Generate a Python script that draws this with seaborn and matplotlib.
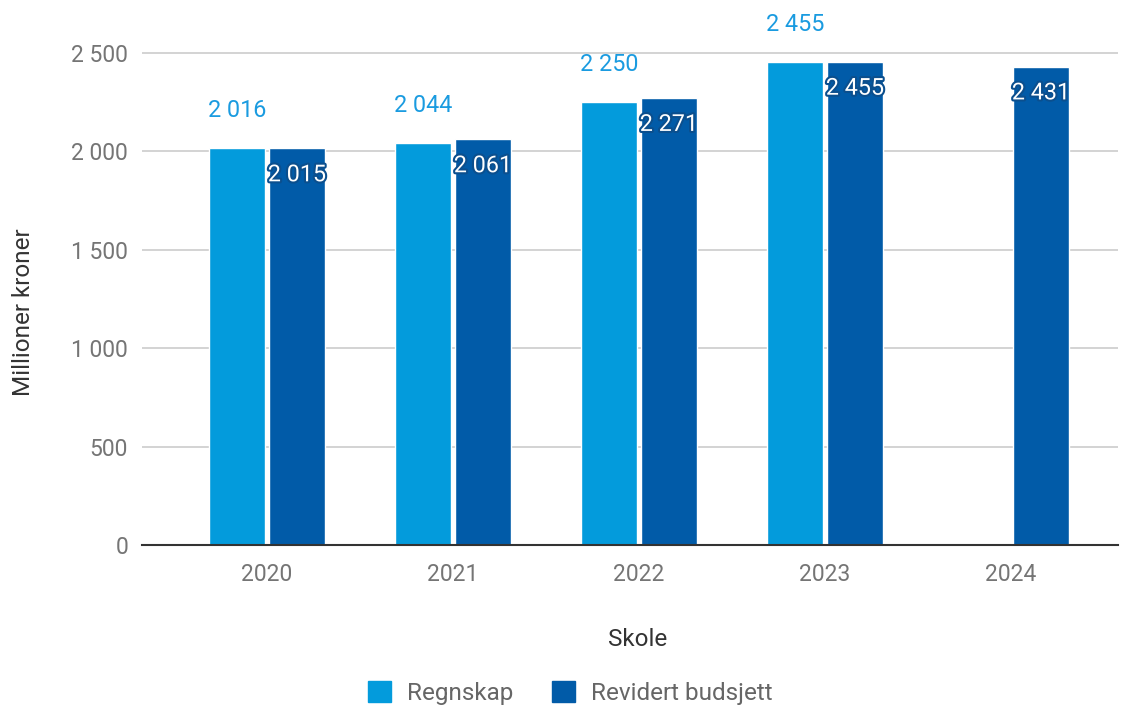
import numpy as np
import pandas as pd
import matplotlib
matplotlib.use("Agg")
import matplotlib.pyplot as plt
import matplotlib.patheffects as pe
from matplotlib.patches import Patch
from matplotlib.ticker import FuncFormatter, MultipleLocator
import seaborn as sns

years = ["2020", "2021", "2022", "2023", "2024"]
regnskap = [2016, 2044, 2250, 2455, np.nan]
revidert = [2015, 2061, 2271, 2455, 2431]
series = ["Regnskap", "Revidert budsjett"]
colors = ["#039BDC", "#015BA8"]
x_title = "Skole"
y_title = "Millioner kroner"

sns.set_theme(style="white")
plt.rcParams["font.family"] = ["Roboto", "DejaVu Sans"]


def fmt(v, pos=None):
    return f"{int(round(v)):,}".replace(",", " ")


df = pd.DataFrame({
    "year": years * 2,
    "series": [series[0]] * len(years) + [series[1]] * len(years),
    "value": list(regnskap) + list(revidert),
})

W, H = 1123, 706
fig = plt.figure(figsize=(W / 100, H / 100), dpi=100)
ax = fig.add_axes([142 / W, 1 - 545 / H, (1118 - 142) / W, 545 / H])

sns.barplot(data=df, x="year", y="value", hue="series", hue_order=series,
            palette=colors, saturation=1, width=0.645, gap=0.0,
            ax=ax, legend=False, errorbar=None)

# shrink each bar slightly to leave a thin gap between the pair
for container in ax.containers:
    for bar in container:
        w = bar.get_width()
        cx = bar.get_x() + w / 2
        nw = w - 4 / 186
        bar.set_width(nw)
        bar.set_x(cx - nw / 2)

ax.set_xlim(-0.672, 4.575)
ax.set_ylim(0, 2769)
ax.yaxis.set_major_locator(MultipleLocator(500))
ax.yaxis.set_major_formatter(FuncFormatter(fmt))
ax.yaxis.grid(True, color="#cccccc", lw=1.2)
ax.set_axisbelow(True)
for s in ["top", "right", "left"]:
    ax.spines[s].set_visible(False)
ax.spines["bottom"].set_color("#333333")
ax.spines["bottom"].set_linewidth(1.5)
ax.tick_params(axis="both", length=0, labelsize=16.5, labelcolor="#757575")
ax.tick_params(axis="x", pad=13)
ax.tick_params(axis="y", pad=10)

ax.set_xlabel(x_title, fontsize=17.5, color="#333333")
ax.xaxis.set_label_coords((638 - 142) / 976, -(628 - 545) / 545)
ax.set_ylabel(y_title, fontsize=17.5, color="#333333")
ax.yaxis.set_label_coords((35 - 142) / 976, (545 - 312) / 545)

for container, level in zip(ax.containers, series):
    for bar in container:
        h = bar.get_height()
        if h is None or np.isnan(h):
            continue
        x = bar.get_x() + bar.get_width() / 2
        if level == series[0]:
            ax.annotate(fmt(h), (x, h), xytext=(0, 27), textcoords="offset points",
                        ha="center", va="center", fontsize=16.8, color="#1A9BE0")
        else:
            ax.annotate(fmt(h), (x, h), xytext=(0, -19), textcoords="offset points",
                        ha="center", va="center", fontsize=16.8, color="white",
                        path_effects=[pe.withStroke(linewidth=3, foreground="#0B4F8E")])

handles = [Patch(facecolor=c, edgecolor=c) for c in colors]
leg = fig.legend(handles, series, loc="center", bbox_to_anchor=(570 / W, 1 - 693 / H),
                 ncol=2, frameon=False, fontsize=17.5, handlelength=0.95, handleheight=0.95,
                 handletextpad=0.65, columnspacing=1.6)
for t in leg.get_texts():
    t.set_color("#666666")

fig.savefig("out.png", dpi=100)
